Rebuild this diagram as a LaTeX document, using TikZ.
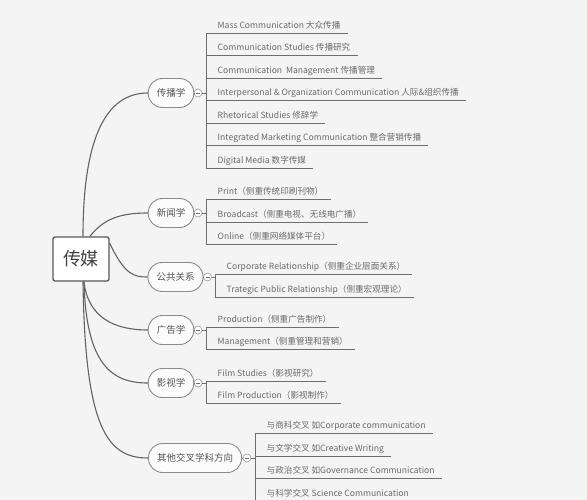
\documentclass[tikz,border=0pt]{standalone}
\usepackage{fontspec}
\setmainfont{Noto Sans CJK SC}
\definecolor{bg}{HTML}{F4F4F4}
\definecolor{lncol}{HTML}{6E6E6E}
\definecolor{txtcol}{HTML}{6A6A6A}
\definecolor{brtxt}{HTML}{555555}
\tikzset{
  ln/.style={draw=lncol, line width=0.8pt},
  curve/.style={draw=lncol!90!black, line width=1.1pt},
  itemtext/.style={inner sep=0pt, text=txtcol, font=\fontsize{8.6}{10}\selectfont},
  branch/.style={draw=lncol!80, line width=0.9pt, fill=white!60!bg, rounded corners=14pt,
     minimum height=29pt, inner xsep=8.5pt, inner ysep=0pt, text=brtxt, font=\fontsize{9.5}{11}\selectfont},
  rootbox/.style={draw=lncol!80!black, line width=1.3pt, fill=white, rounded corners=2pt,
     minimum width=56pt, minimum height=44pt, inner sep=0pt, text=black!75, font=\fontsize{18}{20}\selectfont},
  coll/.style={circle, draw=lncol!70, line width=0.6pt, fill=white, minimum size=8pt, inner sep=0pt,
     path picture={\draw[lncol, line width=0.5pt] ([xshift=-2pt]path picture bounding box.center) -- ([xshift=2pt]path picture bounding box.center);}}
}
\newcommand\myitem[5]{%
  \node[itemtext, anchor=base west] (#1) at (#2+11.5, #4-4.5) {#5};
  \coordinate (#1u) at (#2,#4);
  \path (#1.east) ++(7,0) coordinate (#1e);
  \draw[ln] (#1u) -- (#1e |- #1u);
}
\begin{document}
\begin{tikzpicture}[x=1pt,y=-1pt]
\fill[bg] (0,0) rectangle (587,500);
\useasboundingbox (0,0) rectangle (587,500);

\node[rootbox] (root) at (81,259) {传媒};

\node[branch] (b1) at (171,93) {传播学};
\node[branch] (b2) at (171,213) {新闻学};
\node[branch] (b3) at (175.5,277) {公共关系};
\node[branch] (b4) at (171,330) {广告学};
\node[branch] (b5) at (171,383) {影视学};
\node[branch] (b6) at (195,458) {其他交叉学科方向};

% connectors from root
\draw[curve] ([xshift=2pt]root.north) .. controls (83,140) and (105,93) .. (b1.west);
\draw[curve] ([xshift=9pt]root.north) .. controls (104,218) and (122,213) .. (b2.west);
\draw[curve] ([yshift=16pt]root.east) .. controls (125,276) and (135,277) .. (b3.west);
\draw[curve] ([xshift=3pt]root.south) .. controls (88,318) and (115,330) .. (b4.west);
\draw[curve] ([xshift=3pt]root.south) .. controls (86,365) and (112,383) .. (b5.west);
\draw[curve] ([xshift=2pt]root.south) .. controls (85,430) and (108,458) .. (b6.west);

% collapse circles
\node[coll] (c1) at (198,93) {};
\node[coll] (c2) at (198,213) {};
\node[coll] (c3) at (207.5,277) {};
\node[coll] (c4) at (198,330) {};
\node[coll] (c5) at (198,383) {};
\node[coll] (c6) at (247,458) {};
\foreach \i in {1,...,6}{\draw[ln, line width=0.6pt] (b\i.east) -- (c\i.west);}

% brackets
\coordinate (k1) at (206,93);
\coordinate (k2) at (206,213);
\coordinate (k3) at (215,277);
\coordinate (k4) at (206,330);
\coordinate (k5) at (206,383);
\coordinate (k6) at (255,458);
\foreach \i in {1,...,6}{\draw[ln] (c\i.east) -- (k\i);}
\draw[ln] (206,33) -- (206,168);
\draw[ln] (206,199) -- (206,244);
\draw[ln] (215,274) -- (215,297);
\draw[ln] (206,327) -- (206,349);
\draw[ln] (206,381) -- (206,403);
\draw[ln] (255,433) -- (255,501);

% items 传播学
\myitem{a1}{206}{}{33}{Mass Communication 大众传播}
\myitem{a2}{206}{}{55.5}{Communication Studies 传播研究}
\myitem{a3}{206}{}{78}{Communication\ \ Management 传播管理}
\myitem{a4}{206}{}{100.5}{Interpersonal \& Organization Communication 人际\&组织传播}
\myitem{a5}{206}{}{123}{Rhetorical Studies 修辞学}
\myitem{a6}{206}{}{145.5}{Integrated Marketing Communication 整合营销传播}
\myitem{a7}{206}{}{168}{Digital Media 数字传媒}
% 新闻学
\myitem{n1}{206}{}{199}{Print（侧重传统印刷刊物）}
\myitem{n2}{206}{}{222}{Broadcast（侧重电视、无线电广播）}
\myitem{n3}{206}{}{244}{Online（侧重网络媒体平台）}
% 公共关系
\myitem{p1}{215}{}{274}{Corporate Relationship（侧重企业层面关系）}
\myitem{p2}{215}{}{297}{Trategic Public Relationship（侧重宏观理论）}
% 广告学
\myitem{g1}{206}{}{327}{Production（侧重广告制作）}
\myitem{g2}{206}{}{349}{Management（侧重管理和营销）}
% 影视学
\myitem{f1}{206}{}{381}{Film Studies（影视研究）}
\myitem{f2}{206}{}{403}{Film Production（影视制作）}
% 其他
\myitem{o1}{255}{}{433}{与商科交叉 如Corporate communication}
\myitem{o2}{255}{}{456}{与文学交叉 如Creative Writing}
\myitem{o3}{255}{}{478}{与政治交叉 如Governance Communication}
\myitem{o4}{255}{}{500.5}{与科学交叉 Science Communication}
\end{tikzpicture}
\end{document}
